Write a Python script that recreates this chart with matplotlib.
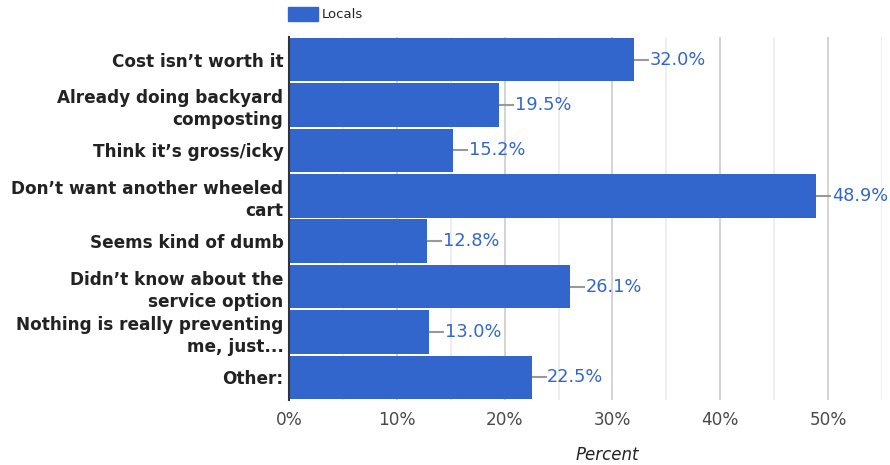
import matplotlib.pyplot as plt
import numpy as np

plt.rcParams['font.family'] = ['DejaVu Sans']

categories = ["Cost isn\u2019t worth it",
              "Already doing backyard\ncomposting",
              "Think it\u2019s gross/icky",
              "Don\u2019t want another wheeled\ncart",
              "Seems kind of dumb",
              "Didn\u2019t know about the\nservice option",
              "Nothing is really preventing\nme, just...",
              "Other:"]
locals_pct = [32.0, 19.5, 15.2, 48.9, 12.8, 26.1, 13.0, 22.5]
xticks = [0, 10, 20, 30, 40, 50]

blue = '#3366cc'

fig = plt.figure(figsize=(8.9, 4.65), dpi=100)
ax = fig.add_axes([0.3247, 0.1398, 0.6663, 0.7806])

y = np.arange(len(categories))
ax.barh(y, locals_pct, height=0.96, color=blue, zorder=2)

# leader lines and value labels
for yi, v in zip(y, locals_pct):
    ax.plot([v, v + 1.4], [yi, yi], color='#999999', lw=1.5, zorder=3, solid_capstyle='butt')
    ax.text(v + 1.45, yi, '%.1f%%' % v, va='center', ha='left', color=blue, fontsize=12.8)

ax.set_xlim(0, 55)
ax.set_ylim(len(categories) - 0.5, -0.5)

# grid: major every 10, minor every 5
for gx in np.arange(5, 56, 5):
    c = '#cccccc' if gx % 10 == 0 else '#ebebeb'
    ax.axvline(gx, color=c, lw=1.2, zorder=1)

ax.set_xticks(xticks)
ax.set_xticklabels(['%d%%' % t for t in xticks], color='#4a4a4a', fontsize=12.2)
ax.tick_params(axis='x', length=0, pad=8)
ax.set_yticks(y)
ax.set_yticklabels(categories, fontweight='bold', fontsize=12.2, color='#222222', linespacing=1.3)
ax.tick_params(axis='y', length=0, pad=4)

for s in ['top', 'right', 'bottom']:
    ax.spines[s].set_visible(False)
ax.spines['left'].set_color('#333333')
ax.spines['left'].set_linewidth(1.5)
ax.spines['left'].set_zorder(4)

ax.set_xlabel('Percent', fontstyle='italic', color='#222222', fontsize=12)
ax.xaxis.label.set_va('center')
ax.xaxis.set_label_coords(0.536, -0.151)

# legend
fig.patches.append(plt.Rectangle((288 / 890, 1 - 21 / 465), 30 / 890, 14 / 465,
                                 transform=fig.transFigure, color=blue))
fig.text(322 / 890, 1 - 14 / 465, 'Locals', va='center', ha='left', fontsize=9.5, color='#222222')

plt.savefig('out.png', dpi=100)
